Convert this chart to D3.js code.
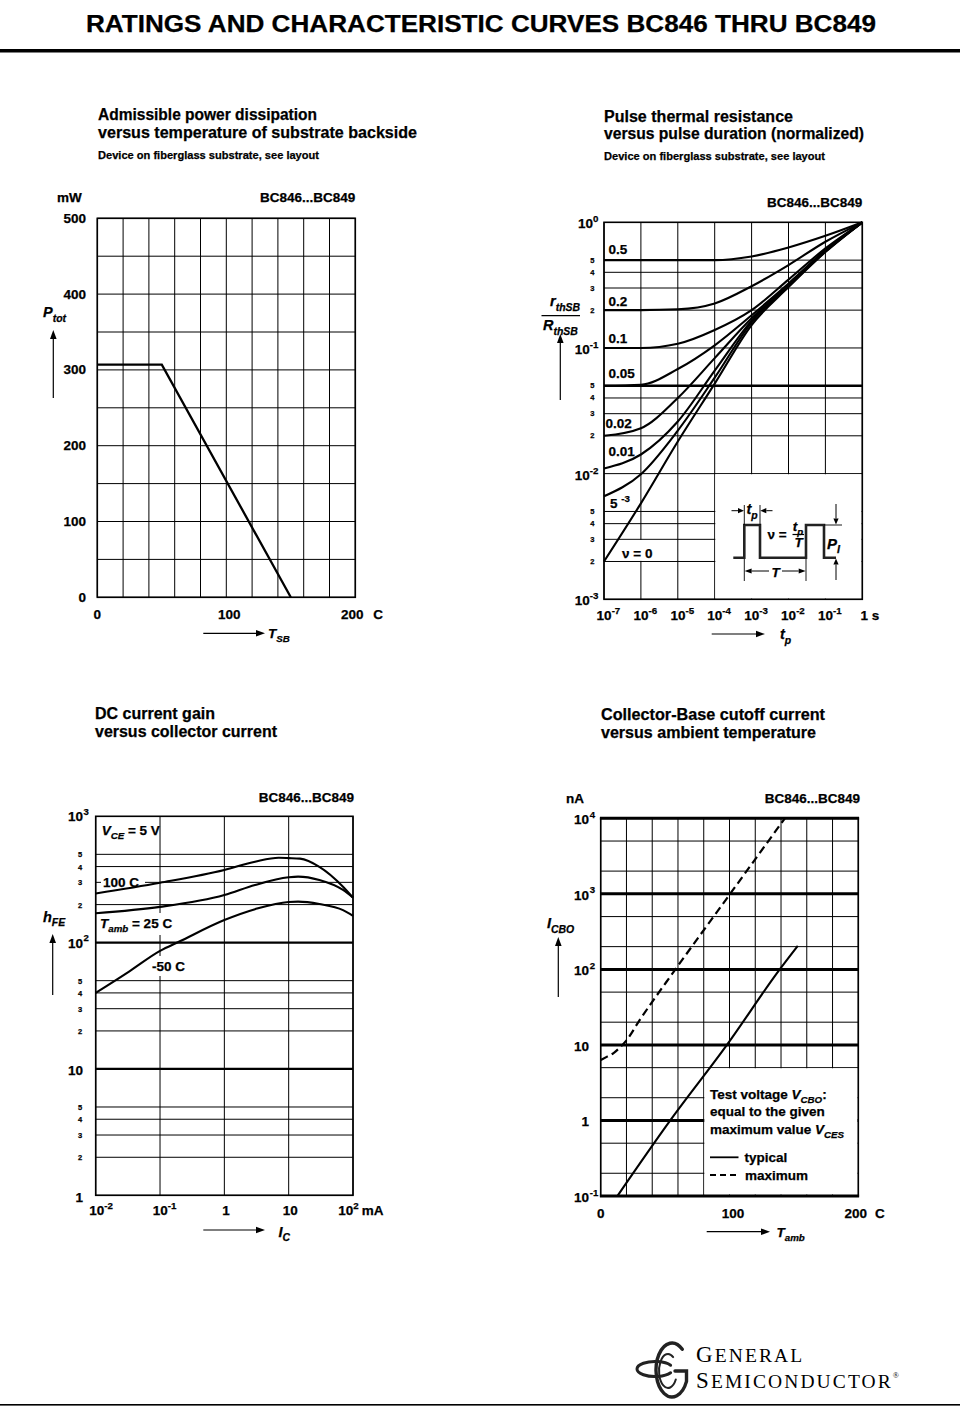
<!DOCTYPE html>
<html><head><meta charset="utf-8">
<script src="https://cdn.jsdelivr.net/npm/d3@7"></script>
<style>
body{margin:0;background:#fff}
svg{display:block}
text{font-family:'Liberation Sans',Arial,Helvetica,sans-serif;font-weight:bold;fill:#000;stroke:#000;stroke-width:0.25px}
</style>
</head><body><script>
// ================= DATA =================
const headerText = "RATINGS AND CHARACTERISTIC CURVES BC846 THRU BC849";
const deviceText = "BC846...BC849";

// Chart 1: admissible power dissipation vs substrate temperature
const pdTemp = [0, 50, 150];          // °C
const pdPower = [307, 307, 0];        // mW
const pdXTicks = [0, 100, 200];
const pdYTicks = [0, 100, 200, 300, 400, 500];

// Chart 2: pulse thermal resistance vs pulse duration
const rthTp = [1e-7, 1e-6, 1e-5, 1e-4, 1e-3, 1e-2, 1e-1, 1];   // s
const rthDuty = ["0.5", "0.2", "0.1", "0.05", "0.02", "0.01", "5e-3", "0"];
const rth_05   = [0.5, 0.5, 0.5, 0.5, 0.535, 0.63, 0.78, 1];
const rth_02   = [0.2, 0.2, 0.203, 0.226, 0.31, 0.457, 0.70, 1];
const rth_01   = [0.1, 0.1, 0.108, 0.139, 0.2, 0.35, 0.62, 1];
const rth_005  = [0.05, 0.051, 0.068, 0.105, 0.182, 0.326, 0.60, 1];
const rth_002  = [0.02, 0.023, 0.040, 0.083, 0.172, 0.317, 0.595, 1];
const rth_001  = [0.011, 0.0142, 0.026, 0.066, 0.165, 0.313, 0.59, 1];
const rth_0005 = [0.0066, 0.0099, 0.022, 0.058, 0.16, 0.31, 0.585, 1];
const rth_0    = [0.002, 0.0058, 0.018, 0.052, 0.152, 0.305, 0.58, 1];
const rthXDecades = [-7, -6, -5, -4, -3, -2, -1];
const rthYDecades = [0, -1, -2, -3];

// Chart 3: DC current gain vs collector current
const hfeIc100 = [0.01, 0.1, 1, 3, 7, 10, 15, 30, 70, 100];   // mA
const hfe100   = [245, 298, 376, 437, 470, 467, 462, 398, 277, 227];
const hfeIc25  = [0.01, 0.1, 1, 3, 10, 14, 30, 70, 100];
const hfe25    = [171, 192, 238, 286, 329, 333, 313, 261, 227];
const hfeIcM50 = [0.01, 0.033, 0.1, 0.2, 1, 3, 10, 14, 30, 70, 100];
const hfeM50   = [40, 59, 86, 102, 151, 184, 210, 211, 202, 181, 163];
const hfeXTicks = [0.01, 0.1, 1, 10, 100];
const hfeYTicks = [1, 10, 100, 1000];

// Chart 4: collector-base cutoff current vs ambient temperature
const icboTypT = [13, 54, 98, 139, 153];           // °C
const icboTyp  = [0.1, 1, 10, 100, 205];           // nA
const icboMaxT = [0, 5, 10, 15, 20, 30, 58, 100.5, 143];
const icboMax  = [6.3, 7, 7.8, 9.3, 11.5, 21, 100, 1000, 10000];
const icboXTicks = [0, 100, 200];
const icboYTicks = [0.1, 1, 10, 100, 1000, 10000];

// ================= HELPERS =================
const svg = d3.select('body').append('svg').attr('width', 960).attr('height', 1407);
svg.append('rect').attr('width', 960).attr('height', 1407).attr('fill', '#fff');

function hline(g, xa, xb, y, w = 1) {
  g.append('line').attr('x1', xa).attr('x2', xb).attr('y1', y).attr('y2', y)
    .attr('stroke', '#000').attr('stroke-width', w);
}
function vline(g, x, ya, yb, w = 1) {
  g.append('line').attr('x1', x).attr('x2', x).attr('y1', ya).attr('y2', yb)
    .attr('stroke', '#000').attr('stroke-width', w);
}
function frame(g, xa, ya, xb, yb, w = 1.6) {
  g.append('rect').attr('x', xa).attr('y', ya).attr('width', xb - xa).attr('height', yb - ya)
    .attr('fill', 'none').attr('stroke', '#000').attr('stroke-width', w);
}
function white(g, xa, ya, xb, yb) {
  g.append('rect').attr('x', xa).attr('y', ya).attr('width', xb - xa).attr('height', yb - ya).attr('fill', '#fff');
}
function txt(g, x, y, s, size = 13.5, anchor = 'start') {
  return g.append('text').attr('x', x).attr('y', y).attr('font-size', size).attr('text-anchor', anchor).text(s);
}
function rich(g, x, y, parts, size = 13.5, anchor = 'start') {
  const t = g.append('text').attr('x', x).attr('y', y).attr('font-size', size).attr('text-anchor', anchor);
  let cur = 0;
  parts.forEach(p => {
    const target = p.sub ? size * 0.32 : p.sup ? -size * 0.45 : 0;
    const ts = t.append('tspan').attr('dy', target - cur).text(p.s);
    cur = target;
    if (p.sub || p.sup) ts.attr('font-size', size * 0.72);
    if (p.i) ts.attr('font-style', 'italic');
  });
  return t;
}
function arrow(g, xa, ya, xb, yb, len = 9, hw = 3.3, w = 1.2) {
  const dx = xb - xa, dy = yb - ya, L = Math.hypot(dx, dy), ux = dx / L, uy = dy / L;
  const bx = xb - ux * len, by = yb - uy * len;
  g.append('line').attr('x1', xa).attr('y1', ya).attr('x2', bx).attr('y2', by)
    .attr('stroke', '#000').attr('stroke-width', w);
  g.append('path').attr('d', `M${xb},${yb}L${bx - uy * hw},${by + ux * hw}L${bx + uy * hw},${by - ux * hw}Z`)
    .attr('fill', '#000');
}
function curve(g, xs, ys, sx, sy, w = 2, dash = null) {
  const p = g.append('path').datum(d3.zip(xs, ys))
    .attr('d', d3.line().x(d => sx(d[0])).y(d => sy(d[1])).curve(d3.curveMonotoneX))
    .attr('fill', 'none').attr('stroke', '#000').attr('stroke-width', w).attr('stroke-linejoin', 'round');
  if (dash) p.attr('stroke-dasharray', dash);
  return p;
}
function titleLines(g, x, lines) {
  lines.forEach(l => {
    const t = txt(g, x, l.y, l.s, l.size);
    if (l.len) t.attr('textLength', l.len).attr('lengthAdjust', 'spacingAndGlyphs');
  });
}

// ================= HEADER =================
txt(svg, 86, 31.5, headerText, 23).attr('textLength', 790).attr('lengthAdjust', 'spacingAndGlyphs');
svg.append('rect').attr('x', 0).attr('y', 49).attr('width', 960).attr('height', 3.5).attr('fill', '#000');

// ================= CHART 1 =================
{
  const g = svg.append('g');
  const x = d3.scaleLinear().domain([0, 200]).range([97.3, 355.3]);
  const y = d3.scaleLinear().domain([0, 500]).range([597.3, 218.3]);
  titleLines(g, 98, [
    { s: 'Admissible power dissipation', y: 120, size: 16, len: 219 },
    { s: 'versus temperature of substrate backside', y: 137.5, size: 16, len: 319 },
    { s: 'Device on fiberglass substrate, see layout', y: 159, size: 11.5, len: 221 }
  ]);
  d3.range(0, 201, 20).forEach(v => vline(g, x(v), y(0), y(500)));
  d3.range(0, 501, 50).forEach(v => hline(g, x(0), x(200), y(v)));
  frame(g, x(0), y(500), x(200), y(0));
  g.append('path').datum(d3.zip(pdTemp, pdPower))
    .attr('d', d3.line().x(d => x(d[0])).y(d => y(d[1])))
    .attr('fill', 'none').attr('stroke', '#000').attr('stroke-width', 2.3);
  pdYTicks.forEach(v => txt(g, 86, y(v) + 4.5, v, 13.5, 'end'));
  pdXTicks.forEach((v, i) => txt(g, x(v) + [0, 3, -3][i], 619, v, 13.5, 'middle'));
  txt(g, x(200) + 18, 619, 'C', 13.5);
  txt(g, 57, 201.7, 'mW', 13.5);
  txt(g, 355.3, 201.7, deviceText, 13.5, 'end');
  rich(g, 43, 317, [{ s: 'P', i: 1 }, { s: 'tot', i: 1, sub: 1 }], 14.5);
  arrow(g, 53.3, 398, 53.3, 330);
  arrow(g, 203.3, 633.3, 265, 633.3);
  rich(g, 268, 638, [{ s: 'T', i: 1 }, { s: 'SB', i: 1, sub: 1 }], 13.5);
}

// ================= CHART 2 =================
{
  const g = svg.append('g');
  const x = d3.scaleLog().domain([1e-7, 1]).range([604, 862.3]);
  const y = d3.scaleLog().domain([1e-3, 1]).range([599.3, 222.3]);
  titleLines(g, 604, [
    { s: 'Pulse thermal resistance', y: 121.5, size: 16, len: 189 },
    { s: 'versus pulse duration (normalized)', y: 139, size: 16, len: 260 },
    { s: 'Device on fiberglass substrate, see layout', y: 160, size: 11.5, len: 221 }
  ]);
  // grid
  rthXDecades.concat([0]).forEach(k => vline(g, x(Math.pow(10, k)), y(1e-3), y(1)));
  [-3, -2, -1].forEach(k => [1, 2, 3, 4, 5].forEach(m => {
    const v = m * Math.pow(10, k);
    hline(g, x(1e-7), x(1), y(v), (m === 5 && k === -2) ? 2.4 : 1);
  }));
  // inset area + nu=0 label area
  white(g, x(1e-4) + 0.6, y(1e-2) + 0.6, x(1) - 0.8, y(1e-3) - 0.8);
  white(g, x(1e-7) + 6, y(3e-3) + 0.6, x(1e-5) - 1.5, y(2e-3) - 0.6);
  frame(g, x(1e-7), y(1), x(1), y(1e-3));
  // curves
  [rth_05, rth_02, rth_01, rth_005, rth_002, rth_001, rth_0005, rth_0].forEach(arr =>
    curve(g, rthTp, arr, x, y, 2.1));
  // curve labels
  txt(g, 608.5, 254.3, '0.5', 13.5);
  txt(g, 608.5, 305.7, '0.2', 13.5);
  txt(g, 608.5, 343.3, '0.1', 13.5);
  txt(g, 608.5, 378.3, '0.05', 13.5);
  txt(g, 605.5, 428.3, '0.02', 13.5);
  txt(g, 608.5, 455.7, '0.01', 13.5);
  rich(g, 610, 508, [{ s: '5 ' }, { s: '-3', sup: 1 }], 13.5);
  txt(g, 622, 558, 'ν =  0', 13.5);
  // y ticks
  rthYDecades.forEach(k => rich(g, 598.5, y(Math.pow(10, k)) + 6, [{ s: '10' }, { s: String(k), sup: 1 }], 13.5, 'end'));
  [-3, -2, -1].forEach(k => [2, 3, 4, 5].forEach(m =>
    txt(g, 592.3, y(m * Math.pow(10, k)) + 2.5, m, 7.5, 'middle')));
  // x ticks
  rthXDecades.forEach(k => rich(g, x(Math.pow(10, k)) - 7.4, 620, [{ s: '10' }, { s: String(k), sup: 1 }], 13.5));
  txt(g, 860.5, 620, '1 s', 13.5);
  txt(g, 862.3, 207, deviceText, 13.5, 'end');
  // axis labels
  rich(g, 550, 306, [{ s: 'r', i: 1 }, { s: 'thSB', i: 1, sub: 1 }], 14.5);
  hline(g, 541.5, 580, 315.7, 1.2);
  rich(g, 543, 330, [{ s: 'R', i: 1 }, { s: 'thSB', i: 1, sub: 1 }], 14.5);
  arrow(g, 560.3, 400, 560.3, 334);
  arrow(g, 711.7, 634, 765, 634);
  rich(g, 780, 639, [{ s: 't', i: 1 }, { s: 'p', i: 1, sub: 1 }], 14.5);
  // pulse diagram
  const pg = g.append('g');
  pg.append('path').attr('d', 'M733.3,557.7H744.3V525H760V557.7H806V525H824V557.7H836')
    .attr('fill', 'none').attr('stroke', '#222').attr('stroke-width', 2.6);
  vline(pg, 744.3, 505, 525, 0.9); vline(pg, 760, 505, 525, 0.9);
  arrow(pg, 731.5, 510.7, 744, 510.7, 6, 2.6, 1);
  arrow(pg, 772.5, 510.7, 760.3, 510.7, 6, 2.6, 1);
  rich(pg, 746.5, 514, [{ s: 't', i: 1 }, { s: 'p', i: 1, sub: 1 }], 14.5);
  vline(pg, 744.3, 559, 581, 0.9); vline(pg, 806, 559, 581, 0.9);
  arrow(pg, 775, 571, 744.6, 571, 7, 2.6, 1);
  arrow(pg, 775, 571, 805.7, 571, 7, 2.6, 1);
  white(pg, 769, 563, 782, 579);
  txt(pg, 775.5, 576.5, 'T', 13.5, 'middle').attr('font-style', 'italic');
  txt(pg, 767.5, 539, 'ν =', 13.5);
  rich(pg, 798, 531, [{ s: 't', i: 1 }, { s: 'p', i: 1, sub: 1 }], 13.5, 'middle');
  hline(pg, 792.5, 804, 534.5, 1.2);
  txt(pg, 798.5, 546.5, 'T', 13.5, 'middle').attr('font-style', 'italic');
  hline(pg, 824, 842, 525, 0.9);
  arrow(pg, 836, 504, 836, 524.5, 6, 2.6, 1);
  arrow(pg, 836, 580, 836, 558.5, 6, 2.6, 1);
  rich(pg, 827, 548.5, [{ s: 'P', i: 1 }, { s: 'I', i: 1, sub: 1 }], 15);
}

// ================= CHART 3 =================
{
  const g = svg.append('g');
  const x = d3.scaleLog().domain([0.01, 100]).range([95.7, 353]);
  const y = d3.scaleLog().domain([1, 1000]).range([1195.3, 816.3]);
  titleLines(g, 95, [
    { s: 'DC current gain', y: 719, size: 16, len: 120 },
    { s: 'versus collector current', y: 736.5, size: 16, len: 182 }
  ]);
  hfeXTicks.forEach(v => vline(g, x(v), y(1), y(1000)));
  [1, 10, 100].forEach(d => [1, 2, 3, 4, 5].forEach(m =>
    hline(g, x(0.01), x(100), y(m * d), (m === 1 && d > 1) ? 2.3 : 1)));
  frame(g, x(0.01), y(1000), x(100), y(1));
  // label knock-outs
  white(g, 101, 876, 145, 889.5);
  white(g, 98, 913, 181, 935);
  white(g, 148, 956, 193, 976);
  curve(g, hfeIc100, hfe100, x, y, 2.1);
  curve(g, hfeIc25, hfe25, x, y, 2.1);
  curve(g, hfeIcM50, hfeM50, x, y, 2.1);
  rich(g, 101.7, 835, [{ s: 'V', i: 1 }, { s: 'CE', i: 1, sub: 1 }, { s: ' = 5 V' }], 13.5);
  txt(g, 103, 887, '100  C', 13.5);
  rich(g, 100, 928, [{ s: 'T', i: 1 }, { s: 'amb', i: 1, sub: 1 }, { s: ' = 25  C' }], 13.5);
  txt(g, 152, 971, '-50  C', 13.5);
  // y ticks
  hfeYTicks.forEach(v => {
    if (v >= 100) {
      txt(g, 83, y(v) + 5, '10', 13.5, 'end');
      txt(g, 83.5, y(v) - 1.5, String(Math.round(Math.log10(v))), 9.6);
    } else txt(g, 83, y(v) + 6.5, v, 13.5, 'end');
  });
  [1, 10, 100].forEach(d => [2, 3, 4, 5].forEach(m => txt(g, 80, y(m * d) + 3, m, 7.5, 'middle')));
  // x ticks
  rich(g, x(0.01) - 6.4, 1215, [{ s: '10' }, { s: '-2', sup: 1 }], 13.5);
  rich(g, x(0.1) - 7.3, 1215, [{ s: '10' }, { s: '-1', sup: 1 }], 13.5);
  txt(g, x(1) + 1.7, 1215, '1', 13.5, 'middle');
  txt(g, x(10) + 1.7, 1215, '10', 13.5, 'middle');
  rich(g, x(100) - 14.7, 1215, [{ s: '10' }, { s: '2', sup: 1 }], 13.5);
  txt(g, 361.7, 1215, 'mA', 13.5);
  txt(g, 354, 802, deviceText, 13.5, 'end');
  rich(g, 43, 921.5, [{ s: 'h', i: 1 }, { s: 'FE', i: 1, sub: 1 }], 14.5);
  arrow(g, 52.7, 995, 52.7, 934);
  arrow(g, 203.3, 1230, 265, 1230);
  rich(g, 278.5, 1236.5, [{ s: 'I', i: 1 }, { s: 'C', i: 1, sub: 1 }], 14.5);
}

// ================= CHART 4 =================
{
  const g = svg.append('g');
  const x = d3.scaleLinear().domain([0, 200]).range([600.7, 858.3]);
  const y = d3.scaleLog().domain([0.1, 10000]).range([1196, 818.3]);
  titleLines(g, 601, [
    { s: 'Collector-Base cutoff current', y: 720, size: 16, len: 224 },
    { s: 'versus ambient temperature', y: 737.5, size: 16, len: 215 }
  ]);
  d3.range(0, 201, 20).forEach(v => vline(g, x(v), y(0.1), y(10000)));
  [0.1, 1, 10, 100, 1000].forEach(d => [2, 5].forEach(m => hline(g, x(0), x(200), y(m * d))));
  [1, 10, 100, 1000].forEach(d => hline(g, x(0), x(200), y(d), 3));
  white(g, x(80) + 0.6, y(5) + 0.6, x(200) - 0.8, y(0.1) - 1.5);
  frame(g, x(0), y(10000), x(200), y(0.1), 1.6);
  hline(g, x(0) - 0.8, x(200) + 0.8, y(10000), 3);
  hline(g, x(0) - 0.8, x(200) + 0.8, y(0.1), 3);
  curve(g, icboTypT, icboTyp, x, y, 2.1);
  curve(g, icboMaxT, icboMax, x, y, 2.2, '8,4.5');
  // legend text
  rich(g, 710, 1099, [{ s: 'Test voltage ' }, { s: 'V', i: 1 }, { s: 'CBO', i: 1, sub: 1 }, { s: ':' }], 13.5);
  txt(g, 710, 1116, 'equal to the given', 13.5);
  rich(g, 710, 1134, [{ s: 'maximum value ' }, { s: 'V', i: 1 }, { s: 'CES', i: 1, sub: 1 }], 13.5);
  hline(g, 710, 738.5, 1157.3, 1.8);
  txt(g, 744.5, 1162, 'typical', 13.5);
  g.append('line').attr('x1', 710).attr('x2', 740).attr('y1', 1175).attr('y2', 1175)
    .attr('stroke', '#000').attr('stroke-width', 1.8).attr('stroke-dasharray', '6,4');
  txt(g, 745, 1180, 'maximum', 13.5);
  // y ticks
  icboYTicks.forEach(v => {
    const k = Math.round(Math.log10(v));
    if (v === 1 || v === 10) txt(g, 589, y(v) + 6, v, 13.5, 'end');
    else {
      txt(g, 589, y(v) + 6, '10', 13.5, 'end');
      txt(g, 589.7, y(v) - 0.5, String(k), 9.6);
    }
  });
  // x ticks
  icboXTicks.forEach((v, i) => txt(g, x(v) + [0, 3.5, -2.5][i], 1218, v, 13.5, 'middle'));
  txt(g, 875, 1218, 'C', 13.5);
  txt(g, 566, 803, 'nA', 13.5);
  txt(g, 860, 803, deviceText, 13.5, 'end');
  rich(g, 547, 928, [{ s: 'I', i: 1 }, { s: 'CBO', i: 1, sub: 1 }], 14.5);
  arrow(g, 558.3, 997, 558.3, 937);
  arrow(g, 706.7, 1231.7, 770, 1231.7);
  rich(g, 776.5, 1237, [{ s: 'T', i: 1 }, { s: 'amb', i: 1, sub: 1 }], 13.5);
}

// ================= LOGO / FOOTER =================
{
  const g = svg.append('g');
  const lg = g.append('g').attr('fill', 'none').attr('stroke', '#222').attr('stroke-linecap', 'round');
  const P = (cx, cy, rx, ry, deg) => [cx + rx * Math.cos(deg * Math.PI / 180), cy + ry * Math.sin(deg * Math.PI / 180)];
  let a = P(672, 1370, 16, 27, -50), b = P(672, 1370, 16, 27, 25);
  lg.append('path').attr('d', `M${a[0]},${a[1]}A16,27 0 1 0 ${b[0]},${b[1]}L${b[0]},1371L675,1371`).attr('stroke-width', 3.4);
  a = P(668, 1371, 9, 17, -55); b = P(668, 1371, 9, 17, 30);
  lg.append('path').attr('d', `M${a[0]},${a[1]}A9,17 0 1 0 ${b[0]},${b[1]}`).attr('stroke-width', 2);
  a = P(655, 1369, 18, 7.5, -30); b = P(655, 1369, 18, 7.5, 30);
  lg.append('path').attr('d', `M${a[0]},${a[1]}A18,7.5 0 1 0 ${b[0]},${b[1]}`).attr('stroke-width', 3);
  const serif = "'Liberation Serif','Times New Roman',serif";
  const mk = (yy) => g.append('text').attr('x', 696).attr('y', yy).style('font-family', serif).style('font-weight', 'normal')
    .style('stroke-width', '0px').style('letter-spacing', '2.1px').attr('fill', '#222');
  const t1 = mk(1362);
  t1.append('tspan').attr('font-size', 23).text('G');
  t1.append('tspan').attr('font-size', 19.5).text('ENERAL');
  const t2 = mk(1388);
  t2.append('tspan').attr('font-size', 23).text('S');
  t2.append('tspan').attr('font-size', 19.5).text('EMICONDUCTOR');
  t2.append('tspan').attr('dy', -10).attr('font-size', 8).style('letter-spacing', '0px').text('®');
  g.append('rect').attr('x', 0).attr('y', 1404).attr('width', 960).attr('height', 1.6).attr('fill', '#000');
}
</script></body></html>
